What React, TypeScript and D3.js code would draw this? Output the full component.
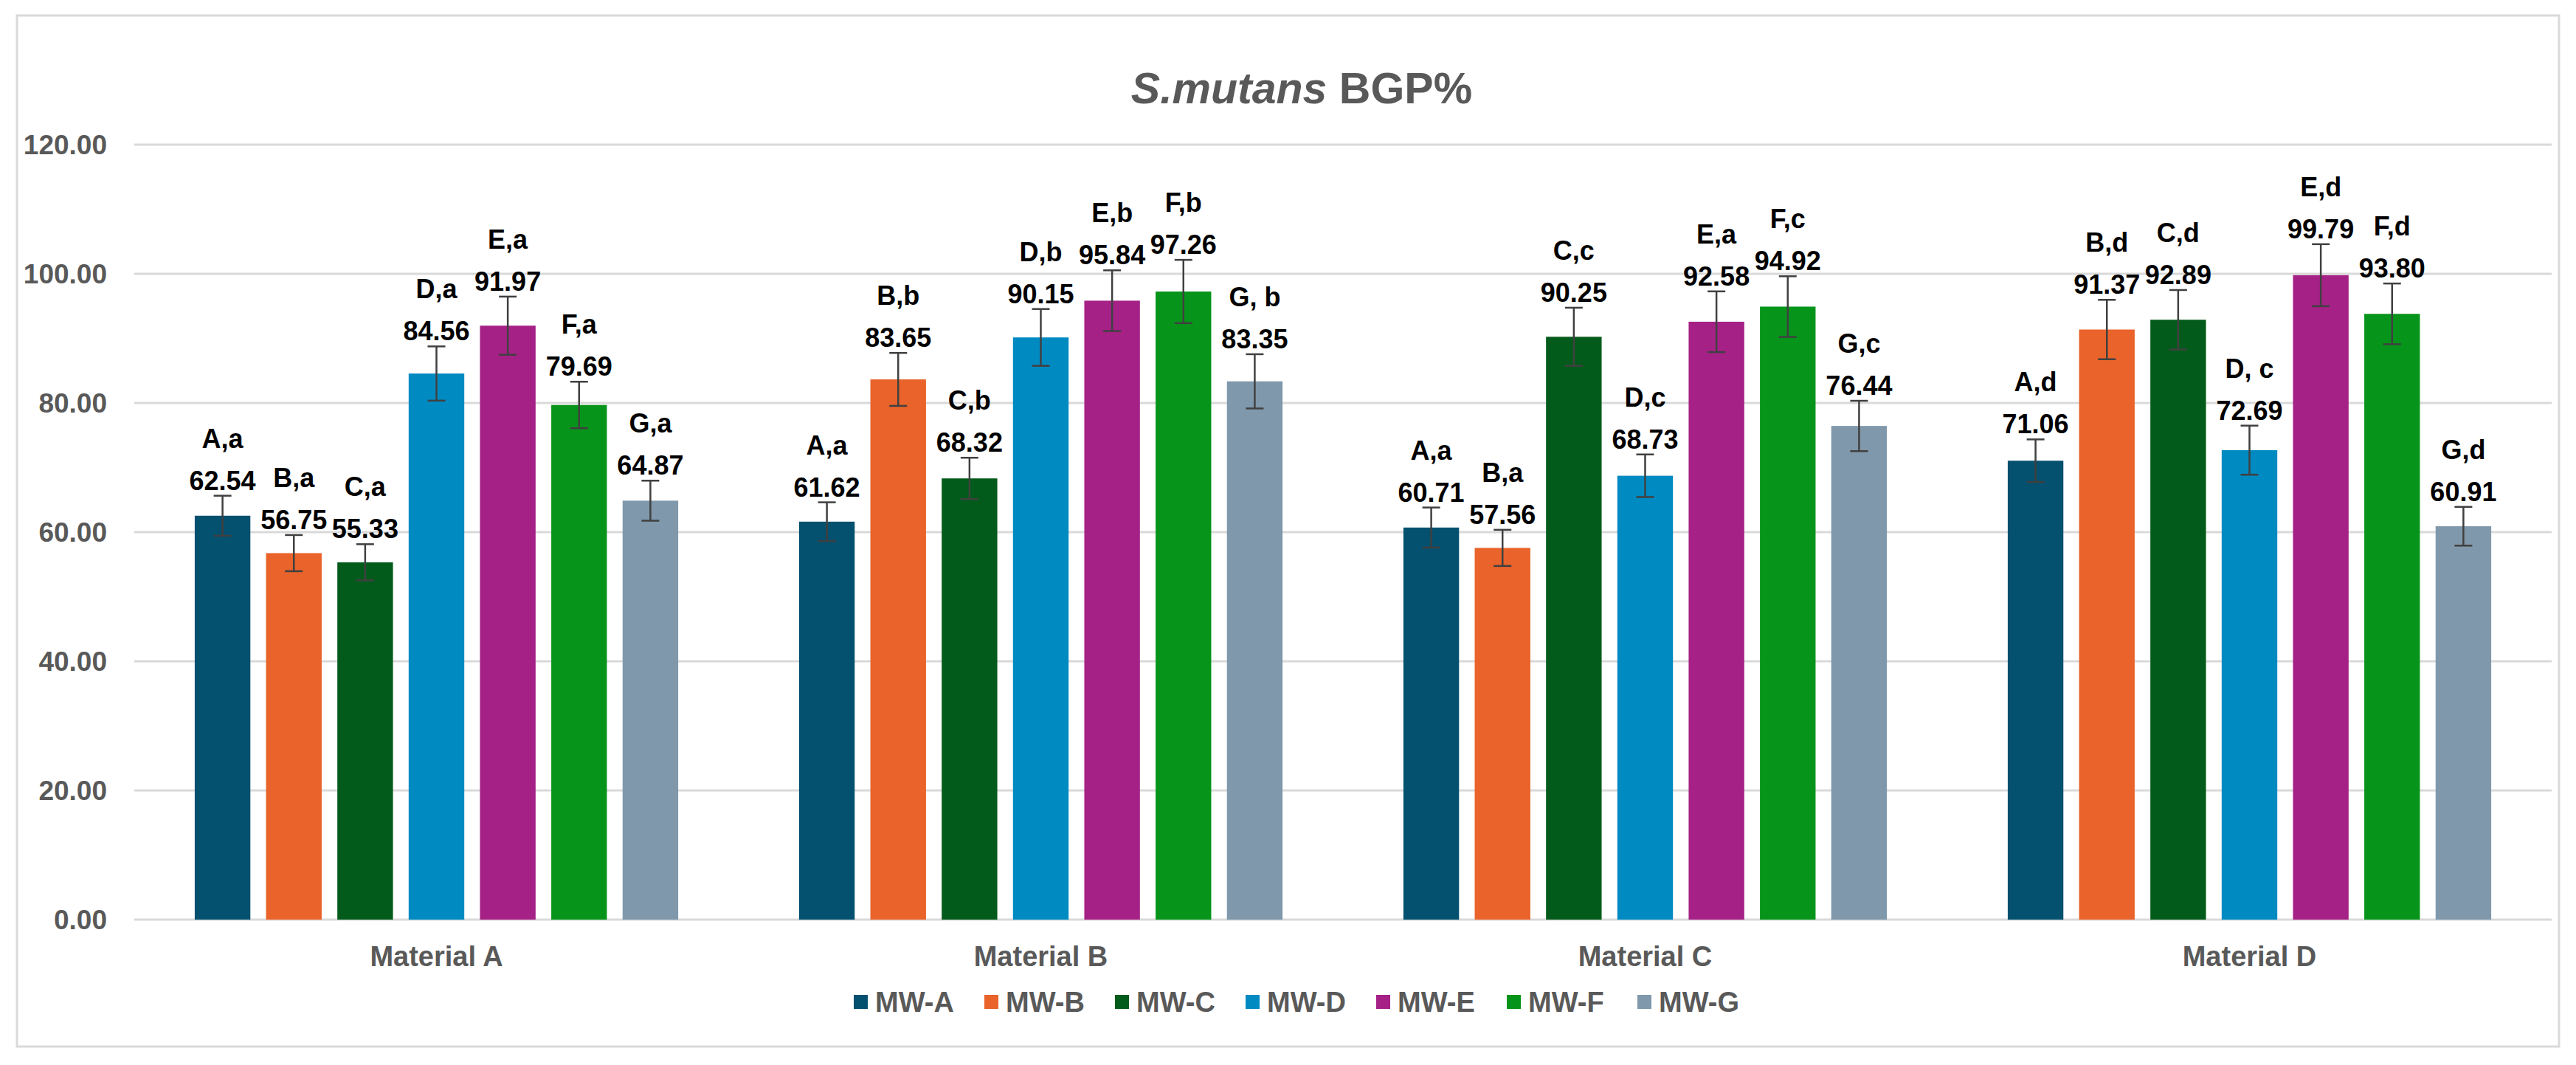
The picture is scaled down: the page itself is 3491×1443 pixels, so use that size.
import * as d3 from 'd3';

const materials = ['Material A', 'Material B', 'Material C', 'Material D'];
const seriesNames = ['MW-A', 'MW-B', 'MW-C', 'MW-D', 'MW-E', 'MW-F', 'MW-G'];
const seriesColors = ['#04506F', '#E9632B', '#035B1B', '#008AC2', '#A52186', '#07941A', '#7F98AC'];

// mean BGP% per series, one value per material
const mwA = [62.54, 61.62, 60.71, 71.06];
const mwB = [56.75, 83.65, 57.56, 91.37];
const mwC = [55.33, 68.32, 90.25, 92.89];
const mwD = [84.56, 90.15, 68.73, 72.69];
const mwE = [91.97, 95.84, 92.58, 99.79];
const mwF = [79.69, 97.26, 94.92, 93.8];
const mwG = [64.87, 83.35, 76.44, 60.91];

// error bar half-widths
const errA = [3.1, 3.0, 3.1, 3.3];
const errB = [2.8, 4.1, 2.8, 4.6];
const errC = [2.8, 3.2, 4.5, 4.6];
const errD = [4.2, 4.4, 3.3, 3.8];
const errE = [4.5, 4.7, 4.7, 4.8];
const errF = [3.6, 4.9, 4.7, 4.7];
const errG = [3.1, 4.2, 3.9, 3.0];

// significance letters
const sigA = ['A,a', 'A,a', 'A,a', 'A,d'];
const sigB = ['B,a', 'B,b', 'B,a', 'B,d'];
const sigC = ['C,a', 'C,b', 'C,c', 'C,d'];
const sigD = ['D,a', 'D,b', 'D,c', 'D, c'];
const sigE = ['E,a', 'E,b', 'E,a', 'E,d'];
const sigF = ['F,a', 'F,b', 'F,c', 'F,d'];
const sigG = ['G,a', 'G, b', 'G,c', 'G,d'];

const yTicks = [0, 20, 40, 60, 80, 100, 120];

const values = [mwA, mwB, mwC, mwD, mwE, mwF, mwG];
const errors = [errA, errB, errC, errD, errE, errF, errG];
const letters = [sigA, sigB, sigC, sigD, sigE, sigF, sigG];

const W = 3491;
const H = 1443;
const FONT = '"Liberation Sans", Arial, sans-serif';
const GRAY = '#595959';

export default function App() {
  const x0 = d3
    .scaleBand<string>()
    .domain(materials)
    .range([182, 3458])
    .paddingInner(0.2)
    .paddingOuter(0.1);

  const x1 = d3
    .scaleBand<string>()
    .domain(seriesNames)
    .range([0, x0.bandwidth()])
    .paddingInner(0.22)
    .paddingOuter(0);

  const y = d3.scaleLinear().domain([0, 120]).range([1246, 196]);
  const fmt = d3.format('.2f');

  const bars = [];
  materials.forEach((m, mi) => {
    seriesNames.forEach((s, si) => {
      const v = values[si][mi];
      const e = errors[si][mi];
      const bx = (x0(m) || 0) + (x1(s) || 0);
      const cx = bx + x1.bandwidth() / 2;
      bars.push({ key: `${m}-${s}`, bx, cx, v, e, color: seriesColors[si], sig: letters[si][mi] });
    });
  });

  const legendStart = 1157;
  const legendStep = 177;

  return (
    <svg
      width={W}
      height={H}
      style={{ position: 'absolute', left: 0, top: 0, background: '#fff' }}
      fontFamily={FONT}
    >
      <rect x={0} y={0} width={W} height={H} fill="#fff" />
      <rect x={23} y={21} width={3445} height={1397} fill="#fff" stroke="#D9D9D9" strokeWidth={3} />

      {/* title */}
      <text x={1764} y={140} textAnchor="middle" fontSize={59} fontWeight="bold" fill={GRAY}>
        <tspan fontStyle="italic">S.mutans</tspan>
        <tspan> BGP%</tspan>
      </text>

      {/* gridlines + y ticks */}
      {yTicks.map((t) => (
        <g key={t}>
          <line x1={182} x2={3458} y1={y(t)} y2={y(t)} stroke="#D9D9D9" strokeWidth={3} />
          <text
            x={145}
            y={y(t)}
            dy="0.36em"
            textAnchor="end"
            fontSize={37}
            fontWeight="bold"
            fill={GRAY}
          >
            {fmt(t)}
          </text>
        </g>
      ))}

      {/* bars */}
      {bars.map((b) => (
        <rect
          key={b.key}
          x={b.bx}
          y={y(b.v)}
          width={x1.bandwidth()}
          height={y(0) - y(b.v)}
          fill={b.color}
        />
      ))}

      {/* error bars */}
      {bars.map((b) => (
        <g key={`err-${b.key}`} stroke="#404040" strokeWidth={2.5}>
          <line x1={b.cx} x2={b.cx} y1={y(b.v + b.e)} y2={y(b.v - b.e)} />
          <line x1={b.cx - 12} x2={b.cx + 12} y1={y(b.v + b.e)} y2={y(b.v + b.e)} />
          <line x1={b.cx - 12} x2={b.cx + 12} y1={y(b.v - b.e)} y2={y(b.v - b.e)} />
        </g>
      ))}

      {/* value + letter labels */}
      {bars.map((b) => {
        const base = y(b.v + b.e) - 8;
        return (
          <g key={`lab-${b.key}`} textAnchor="middle" fontSize={36} fontWeight="bold" fill="#000">
            <text x={b.cx} y={base}>
              {fmt(b.v)}
            </text>
            <text x={b.cx} y={base - 57}>
              {b.sig}
            </text>
          </g>
        );
      })}

      {/* category labels */}
      {materials.map((m) => (
        <text
          key={m}
          x={(x0(m) || 0) + x0.bandwidth() / 2}
          y={1309}
          textAnchor="middle"
          fontSize={38}
          fontWeight="bold"
          fill={GRAY}
        >
          {m}
        </text>
      ))}

      {/* legend */}
      {seriesNames.map((s, i) => (
        <g key={s} transform={`translate(${legendStart + i * legendStep},0)`}>
          <rect x={0} y={1348} width={19} height={19} fill={seriesColors[i]} />
          <text x={29} y={1371} fontSize={38} fontWeight="bold" fill={GRAY}>
            {s}
          </text>
        </g>
      ))}
    </svg>
  );
}
